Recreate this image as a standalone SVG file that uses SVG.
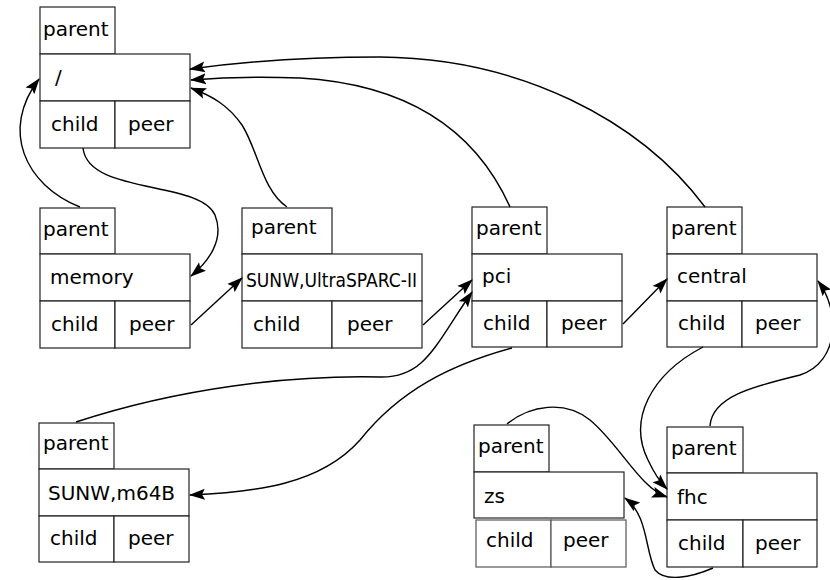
<svg xmlns="http://www.w3.org/2000/svg" width="830" height="580" viewBox="0 0 830 580">
<style>
rect{fill:#fff;stroke:#222;stroke-width:1.2}
text{font-family:"DejaVu Sans","Liberation Sans",sans-serif;font-size:20px;fill:#000}
.c path{fill:none;stroke:#000;stroke-width:1.4;marker-end:url(#ah)}
</style>
<defs>
<marker id="ah" viewBox="0 0 16 12" refX="15" refY="6" markerWidth="16" markerHeight="12" orient="auto" markerUnits="userSpaceOnUse"><path d="M0,0.5 L16,6 L0,11.5 L3,6 z" fill="#000"/></marker>
</defs>
<rect width="830" height="580" style="stroke:none"/>
<g id="root">
<rect x="40" y="7" width="75" height="47"/><rect x="40" y="54" width="150" height="47"/><rect x="40" y="101" width="75" height="47"/><rect x="115" y="101" width="75" height="47"/>
<text x="43" y="36">parent</text><text x="55" y="84">/</text><text x="51" y="131">child</text><text x="128" y="131">peer</text>
</g>
<g id="memory">
<rect x="40" y="208" width="75" height="46"/><rect x="40" y="254" width="150" height="47"/><rect x="40" y="301" width="75" height="47"/><rect x="115" y="301" width="75" height="47"/>
<text x="43" y="236">parent</text><text x="50" y="284">memory</text><text x="51" y="331">child</text><text x="129" y="331">peer</text>
</g>
<g id="ultrasparc">
<rect x="242" y="208" width="90" height="46"/><rect x="242" y="254" width="180" height="47"/><rect x="242" y="301" width="90" height="47"/><rect x="332" y="301" width="90" height="47"/>
<text x="251" y="234">parent</text><text x="246" y="287" textLength="171" lengthAdjust="spacingAndGlyphs">SUNW,UltraSPARC-II</text><text x="253" y="331">child</text><text x="347" y="331">peer</text>
</g>
<g id="pci">
<rect x="472" y="207" width="75" height="47"/><rect x="472" y="254" width="150" height="47"/><rect x="472" y="301" width="75" height="46"/><rect x="547" y="301" width="75" height="46"/>
<text x="476" y="235">parent</text><text x="482" y="283">pci</text><text x="483" y="330">child</text><text x="561" y="330">peer</text>
</g>
<g id="central">
<rect x="667" y="207" width="75" height="47"/><rect x="667" y="254" width="150" height="47"/><rect x="667" y="301" width="75" height="46"/><rect x="742" y="301" width="75" height="46"/>
<text x="671" y="235">parent</text><text x="677" y="283">central</text><text x="678" y="330">child</text><text x="755" y="330">peer</text>
</g>
<g id="m64b">
<rect x="39" y="423" width="75" height="46"/><rect x="39" y="469" width="150" height="47"/><rect x="39" y="516" width="75" height="46"/><rect x="114" y="516" width="75" height="46"/>
<text x="43" y="450">parent</text><text x="48" y="500">SUNW,m64B</text><text x="50" y="545">child</text><text x="128" y="545">peer</text>
</g>
<g id="zs">
<rect x="474" y="425" width="75" height="47"/><rect x="474" y="472" width="150" height="46"/><rect x="476" y="520" width="75" height="47" style="stroke:#555"/><rect x="551" y="520" width="75" height="47" style="stroke:#555"/>
<text x="478" y="453">parent</text><text x="484" y="503">zs</text><text x="486" y="547">child</text><text x="563" y="547">peer</text>
</g>
<g id="fhc">
<rect x="667" y="427" width="76" height="46"/><rect x="667" y="473" width="150" height="47"/><rect x="667" y="520" width="76" height="47"/><rect x="743" y="520" width="74" height="47"/>
<text x="671" y="455">parent</text><text x="677" y="504">fhc</text><text x="678" y="550">child</text><text x="755" y="550">peer</text>
</g>
<g id="connectors" class="c">
<path d="M80,207 C25,185 0,130 39,79"/>
<path d="M83,148 C88,195 200,180 215,215 C225,240 208,262 191,276"/>
<path d="M191,325 L242,278"/>
<path d="M287,207 C262,190 258,150 242,125 C228,105 212,96 191,88"/>
<path d="M423,325 L472,280"/>
<path d="M76,422 C180,388 290,375 380,377 C425,378 435,345 472,292"/>
<path d="M512,348 C450,365 400,390 360,440 C320,485 255,492 190,495"/>
<path d="M510,207 C480,140 420,85 300,78 C250,76 215,78 191,80"/>
<path d="M705,207 C640,120 520,58 380,57 C300,57 240,62 190,69"/>
<path d="M623,324 L667,279"/>
<path d="M703,347 C650,375 628,420 648,460 C655,475 660,482 667,489"/>
<path d="M710,426 C712,395 760,385 800,375 C840,362 840,310 818,281"/>
<path d="M507,424 C530,405 565,400 590,420 C620,445 640,488 667,497"/>
<path d="M713,568 C690,578 665,582 655,570 C645,550 648,515 625,498"/>
</g>
</svg>
